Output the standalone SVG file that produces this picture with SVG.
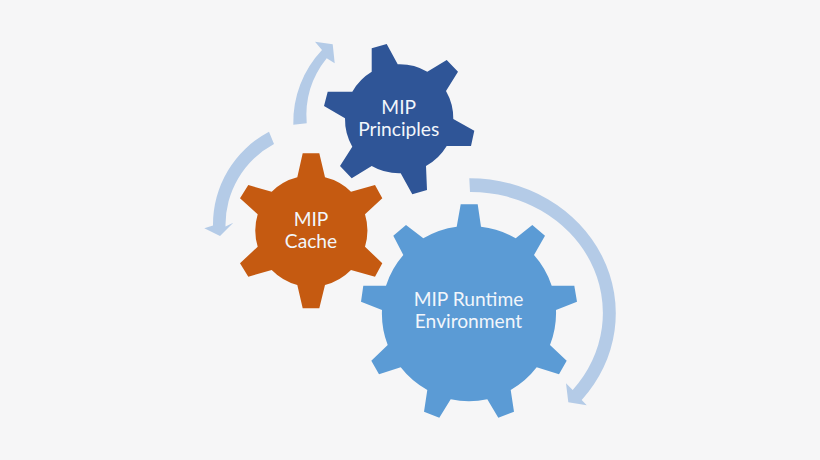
<svg xmlns="http://www.w3.org/2000/svg" width="820" height="460" viewBox="0 0 820 460">
<style>
.t{font-family:"Lato","Open Sans",sans-serif;font-size:19.2px;fill:#f2f6fb;text-anchor:middle}
.a{fill:#b4cbe7}
</style>
<rect width="820" height="460" fill="#f6f6f7"/>
<g id="connectors">
<path class="a" d="M469.3 178.3A146 135 0 0 1 581.7 400L586.7 405.3L568.3 402.3L566 383.3L572.7 390A132 121 0 0 0 470 192Z"/>
<path class="a" d="M293.3 124.7A105 105 0 0 1 322 50L315 41.7L332.7 44.3L334.7 63.3L326.7 58.3A92 92 0 0 0 306.7 123.3Z"/>
<path class="a" d="M269 131.7L274 144A92 92 0 0 0 225.5 226.5L233.3 222.7L220 236L204.3 228.3L213 225.5A105 105 0 0 1 269 131.7Z"/>
</g>
<g id="principles">
<path fill="#2f5597" d="M371.7 48.3L386.7 44L397.7 64.3A55 55 0 0 1 427.3 71.7L446.7 60L458 71.7L446 91A55 55 0 0 1 453.3 119L474.3 130.7L471 146L446.7 146A55 55 0 0 1 426 166L427 190L412.3 194.3L400.7 173.3A55 55 0 0 1 371.7 166L351.7 178.3L340 166L352.3 146.7A55 55 0 0 1 345 118.3L324 106L327.7 91.7L352.3 91.7A55 55 0 0 1 371.7 71.7Z"/>
<text class="t" x="398.7" y="114">MIP</text>
<text class="t" x="398.7" y="136.4">Principles</text>
</g>
<g id="cache">
<path fill="#c55a11" d="M302.7 153.3L319.3 153.3L325 177.3A56 56 0 0 1 351 191.7L375 185L382.3 198.3L365 214.3A56 56 0 0 1 365 246.7L382.3 263.3L375 276.7L351 270A56 56 0 0 1 325 285L319.3 308.3L302.7 308.3L297.3 285A56 56 0 0 1 271.7 270L248.3 276.7L240 263.3L257.7 246.7A56 56 0 0 1 257.7 214.3L240 198.3L248.3 185L271.7 191.7A56 56 0 0 1 297.3 177.3Z"/>
<text class="t" x="311" y="226.4">MIP</text>
<text class="t" x="311" y="248.4">Cache</text>
</g>
<g id="runtime">
<path fill="#5b9bd5" d="M460.7 204.3L477.7 204.3L481 226.7A87 87 0 0 1 515.7 238.3L532.3 225L545 235.7L534 255A87 87 0 0 1 551.7 285.7L574.3 285.7L577 301.7L556 310A87 87 0 0 1 550 345L566.7 360.7L559 374.3L536.7 367.3A87 87 0 0 1 510.7 390L514 411.7L498.3 417.7L487.3 399.3A87 87 0 0 1 450.7 399.3L439.3 417.7L424 411.7L427.3 390A87 87 0 0 1 400.7 367.3L379 374.3L371.3 360.7L387.7 345A87 87 0 0 1 382 310L361 301.7L363.3 285.7L386 285.7A87 87 0 0 1 403.3 255L393.3 235.7L406 225L423.3 238.3A87 87 0 0 1 456.7 226.7Z"/>
<text class="t" x="468.5" y="305.7">MIP Runtime</text>
<text class="t" x="468.5" y="328.4">Environment</text>
</g>
</svg>
